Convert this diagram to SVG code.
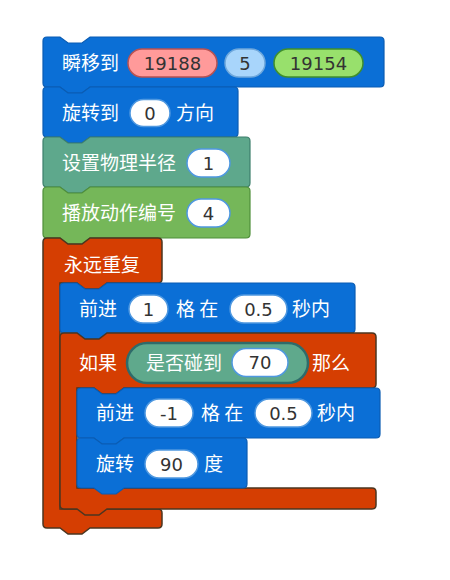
<svg xmlns="http://www.w3.org/2000/svg" width="450" height="580" viewBox="0 0 450 580">
<style>
.blue{fill:#0b6fd6;stroke:#0a5cb3;stroke-width:1.2}
.red{fill:#d53e02;stroke:#4b3621;stroke-width:1.5}
.teal{fill:#5ea88c;stroke:#3d7f6c;stroke-width:1.2}
.green{fill:#75b759;stroke:#4f8f3a;stroke-width:1.2}
.lbl{fill:#ffffff;font-family:"Noto Sans CJK SC","Noto Sans",sans-serif;font-size:19px}
.num{fill:#333333;font-family:"DejaVu Sans","Liberation Sans",sans-serif;font-size:18px;text-anchor:middle}
.wov{fill:#ffffff;stroke:#4f98e0;stroke-width:1.5}
</style>
<rect width="450" height="580" fill="#ffffff"/>
<g id="block-teleport">
<path class="blue" d="M43,41 Q43,37 47,37 L60,37 L68,43 L82,43 L90,37 L380,37 Q384,37 384,41 L384,83 Q384,87 380,87 L90,87 L82,93 L68,93 L60,87 L47,87 Q43,87 43,83 Z"/>
<text class="lbl" x="62" y="70">瞬移到</text>
<rect x="128" y="49" width="89" height="28" rx="14" fill="#ff9a9a" stroke="#b85252" stroke-width="1.5"/>
<text class="num" x="172.5" y="69.5">19188</text>
<rect x="225" y="49" width="40" height="28" rx="14" fill="#a8d5fb" stroke="#6fa8dc" stroke-width="1.5"/>
<text class="num" x="245" y="69.5">5</text>
<rect x="274" y="49" width="89" height="28" rx="14" fill="#98e06c" stroke="#3f8f2d" stroke-width="1.5"/>
<text class="num" x="318.5" y="69.5">19154</text>
</g>
<g id="block-turnto">
<path class="blue" d="M43,91 Q43,87 47,87 L60,87 L68,93 L82,93 L90,87 L234,87 Q238,87 238,91 L238,133 Q238,137 234,137 L90,137 L82,143 L68,143 L60,137 L47,137 Q43,137 43,133 Z"/>
<text class="lbl" x="62" y="120">旋转到</text>
<rect class="wov" x="130" y="99.5" width="40" height="27" rx="13.5"/>
<text class="num" x="150" y="119.5">0</text>
<text class="lbl" x="176" y="120">方向</text>
</g>
<g id="block-radius">
<path class="teal" d="M43,141 Q43,137 47,137 L60,137 L68,143 L82,143 L90,137 L246,137 Q250,137 250,141 L250,183 Q250,187 246,187 L90,187 L82,193 L68,193 L60,187 L47,187 Q43,187 43,183 Z"/>
<text class="lbl" x="62" y="170">设置物理半径</text>
<rect class="wov" x="187" y="149" width="43" height="28" rx="14"/>
<text class="num" x="208.5" y="169.5">1</text>
</g>
<g id="block-action">
<path class="green" d="M43,191 Q43,187 47,187 L60,187 L68,193 L82,193 L90,187 L246,187 Q250,187 250,191 L250,234 Q250,238 246,238 L90,238 L82,244 L68,244 L60,238 L47,238 Q43,238 43,234 Z"/>
<text class="lbl" x="62" y="220">播放动作编号</text>
<rect class="wov" x="187" y="199" width="43" height="28" rx="14"/>
<text class="num" x="208.5" y="219.5">4</text>
</g>
<g id="block-forever">
<path class="red" d="M43,242 Q43,238 47,238 L60,238 L68,244 L82,244 L90,238 L158,238 Q162,238 162,242 L162,279 Q162,283 158,283 L107,283 L99,289 L85,289 L77,283 L60,283 L60,509 L158,509 Q162,509 162,513 L162,524 Q162,528 158,528 L90,528 L82,534 L68,534 L60,528 L47,528 Q43,528 43,524 Z"/>
<text class="lbl" x="64" y="272">永远重复</text>
</g>
<g id="block-move1">
<path class="blue" d="M60,287 Q60,283 64,283 L77,283 L85,289 L99,289 L107,283 L351,283 Q355,283 355,287 L355,329 Q355,333 351,333 L107,333 L99,339 L85,339 L77,333 L64,333 Q60,333 60,329 Z"/>
<text class="lbl" x="79" y="316">前进</text>
<rect class="wov" x="129" y="295" width="39" height="28" rx="14"/>
<text class="num" x="148.5" y="315.5">1</text>
<text class="lbl" x="176" y="316">格 在</text>
<rect class="wov" x="230" y="295" width="57" height="28" rx="14"/>
<text class="num" x="258.5" y="315.5">0.5</text>
<text class="lbl" x="292" y="316">秒内</text>
</g>
<g id="block-if">
<path class="red" d="M60,337 Q60,333 64,333 L77,333 L85,339 L99,339 L107,333 L372,333 Q376,333 376,337 L376,384 Q376,388 372,388 L124,388 L116,394 L102,394 L94,388 L77,388 L77,488 L372,488 Q376,488 376,492 L376,505 Q376,509 372,509 L107,509 L99,515 L85,515 L77,509 L64,509 Q60,509 60,505 Z"/>
<text class="lbl" x="79" y="370">如果</text>
<rect x="127" y="343" width="181" height="40" rx="20" fill="#5fa98c" stroke="#2f6b6a" stroke-width="2.5"/>
<text class="lbl" x="146" y="370">是否碰到</text>
<rect class="wov" x="232" y="348.5" width="56" height="28" rx="14"/>
<text class="num" x="260" y="369">70</text>
<text class="lbl" x="312" y="370">那么</text>
</g>
<g id="block-move2">
<path class="blue" d="M77,392 Q77,388 81,388 L94,388 L102,394 L116,394 L124,388 L376,388 Q380,388 380,392 L380,434 Q380,438 376,438 L124,438 L116,444 L102,444 L94,438 L81,438 Q77,438 77,434 Z"/>
<text class="lbl" x="96" y="420">前进</text>
<rect class="wov" x="145" y="399" width="48" height="28" rx="14"/>
<text class="num" x="169" y="419.5">-1</text>
<text class="lbl" x="201" y="420">格 在</text>
<rect class="wov" x="255" y="399" width="57" height="28" rx="14"/>
<text class="num" x="283.5" y="419.5">0.5</text>
<text class="lbl" x="317" y="420">秒内</text>
</g>
<g id="block-turn">
<path class="blue" d="M77,442 Q77,438 81,438 L94,438 L102,444 L116,444 L124,438 L243,438 Q247,438 247,442 L247,484 Q247,488 243,488 L124,488 L116,494 L102,494 L94,488 L81,488 Q77,488 77,484 Z"/>
<text class="lbl" x="96" y="471">旋转</text>
<rect class="wov" x="145" y="450" width="53" height="28" rx="14"/>
<text class="num" x="171.5" y="470.5">90</text>
<text class="lbl" x="204" y="471">度</text>
</g>
<g id="connectors"></g>
</svg>
